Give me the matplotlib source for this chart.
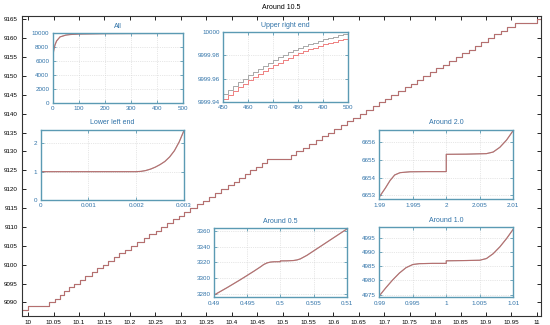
import matplotlib.pyplot as plt
import numpy as np
from matplotlib.ticker import FuncFormatter

# main plot: level left of x=10, then x where the staircase goes up by one
main_start_level = 9088
main_jump_x = [10.000, 10.041, 10.053, 10.062, 10.071, 10.080, 10.090, 10.102,
               10.112, 10.125, 10.136, 10.148, 10.157, 10.168, 10.179, 10.190,
               10.203, 10.214, 10.228, 10.238, 10.251, 10.261, 10.273, 10.284,
               10.296, 10.307, 10.318, 10.331, 10.343, 10.355, 10.368, 10.380,
               10.392, 10.404, 10.415, 10.426, 10.437, 10.448, 10.459, 10.470,
               10.517, 10.527, 10.540, 10.552, 10.565, 10.578, 10.590, 10.602,
               10.614, 10.627, 10.639, 10.652, 10.664, 10.677, 10.689, 10.702,
               10.714, 10.727, 10.740, 10.752, 10.765, 10.777, 10.790, 10.802,
               10.815, 10.828, 10.840, 10.853, 10.866, 10.878, 10.891, 10.903,
               10.916, 10.929, 10.942, 10.957, 11.000]

# inset "All"
all_x = [0, 0, 0.5, 1, 2, 3, 5, 9, 15, 28, 50, 66, 100, 200, 300, 400, 500]
all_y = [0, 0, 3320, 4986, 6654, 7300, 7750, 8350, 8900, 9480, 9740, 9820,
         9895, 9950, 9967, 9975, 9980]

# inset "Upper right end" (two staircases)
ur_x = [450, 452, 454, 456, 458, 460, 462, 464, 466, 468, 470, 472, 474,
        476, 478, 480, 482, 484, 486, 488, 490, 492, 494, 496, 498, 500]
ur_grey = [9999.9464, 9999.9500, 9999.9535, 9999.9568, 9999.9600, 9999.9631,
           9999.9659, 9999.9686, 9999.9712, 9999.9737, 9999.9761, 9999.9783,
           9999.9805, 9999.9826, 9999.9847, 9999.9867, 9999.9883, 9999.9898,
           9999.9912, 9999.9926, 9999.9939, 9999.9952, 9999.9964, 9999.9976,
           9999.9988, 10000.0]
ur_red = [9999.9420, 9999.9456, 9999.9491, 9999.9524, 9999.9556, 9999.9587,
          9999.9615, 9999.9642, 9999.9668, 9999.9693, 9999.9717, 9999.9739,
          9999.9761, 9999.9782, 9999.9803, 9999.9823, 9999.9839, 9999.9854,
          9999.9868, 9999.9882, 9999.9895, 9999.9908, 9999.9920, 9999.9932,
          9999.9944, 9999.9956]

# inset "Lower left end"
ll_x = [0, 0, 0.002, 0.0021, 0.0022, 0.0023, 0.0024, 0.0025, 0.0026,
        0.0027, 0.0028, 0.0029, 0.003]
ll_y = [0, 1, 1, 1.01, 1.04, 1.09, 1.16, 1.25, 1.36, 1.52, 1.74, 2.05, 2.45]

# inset "Around 2.0"
a2_x = [1.99, 1.9909, 1.9916, 1.9923, 1.9931, 1.9946, 1.997, 2.0, 2.0,
        2.003, 2.006, 2.007, 2.008, 2.009, 2.0099, 2.01]
a2_y = [6652.9, 6653.4, 6653.83, 6654.15, 6654.28, 6654.33, 6654.34, 6654.34,
        6655.32, 6655.33, 6655.36, 6655.45, 6655.72, 6656.13, 6656.62, 6656.7]

# inset "Around 0.5"
a05_x = [0.49, 0.492, 0.494, 0.496, 0.497, 0.4975, 0.498, 0.4985, 0.499,
         0.5, 0.5, 0.501, 0.502, 0.5025, 0.503, 0.504, 0.506, 0.508, 0.51]
a05_y = [3279, 3288.5, 3298.5, 3309, 3314.5, 3317.5, 3319.5, 3320.5, 3320.9,
         3321, 3322, 3322.1, 3322.5, 3323.2, 3324.5, 3329, 3340, 3351, 3362]

# inset "Around 1.0"
a1_x = [0.99, 0.991, 0.992, 0.993, 0.994, 0.995, 0.996, 0.998, 1.0, 1.0,
        1.003, 1.005, 1.006, 1.007, 1.008, 1.009, 1.01]
a1_y = [4974.6, 4977.5, 4980.2, 4982.6, 4984.5, 4985.6, 4985.9, 4986.0,
        4986.0, 4986.9, 4987.0, 4987.1, 4987.7, 4989.4, 4991.8, 4994.7, 4998.0]

GREY = '#8c8c8c'
RED = '#d25c5c'
FRAME = '#5b9ab3'
LABEL = '#2f72a8'

plt.rcParams['font.family'] = ['Liberation Sans', 'DejaVu Sans']


def g_fmt(v, pos):
    return '%g' % round(v, 6)


def draw(ax, x, y, step=False):
    if step:
        ax.step(x, y, where='post', color=GREY, lw=0.8)
        ax.step(x, y, where='post', color=RED, lw=0.8, alpha=0.6)
    else:
        ax.plot(x, y, color=GREY, lw=0.8)
        ax.plot(x, y, color=RED, lw=0.8, alpha=0.6)


def inset(rect, title, xlim, ylim, xticks, yticks):
    ax = fig.add_axes(rect, zorder=3)
    ax.set_facecolor('white')
    ax.set_xlim(xlim)
    ax.set_ylim(ylim)
    ax.set_xticks(xticks)
    ax.set_yticks(yticks)
    ax.xaxis.set_major_formatter(FuncFormatter(g_fmt))
    ax.yaxis.set_major_formatter(FuncFormatter(g_fmt))
    ax.tick_params(direction='in', top=True, right=True, length=2.5, width=0.6,
                   color=FRAME, labelcolor=LABEL, labelsize=4.5, pad=2.5)
    for s in ax.spines.values():
        s.set_color(FRAME)
        s.set_linewidth(1.0)
    ax.grid(True, color='#d0d0d0', linestyle=':', linewidth=0.5)
    ax.set_title(title, fontsize=5, color=LABEL, pad=4)
    return ax


fig = plt.figure(figsize=(5.5, 3.25), dpi=100)
ax = fig.add_axes([0.04, 0.0277, 0.9436, 0.9231])
xs = [9.988] + main_jump_x + [11.008]
ys = main_start_level + np.arange(len(main_jump_x) + 1)
ys = list(ys) + [ys[-1]]
draw(ax, xs, ys, step=True)
ax.set_xlim(9.988, 11.008)
ax.set_ylim(9086.4, 9165.9)
ax.set_xticks(np.round(np.arange(10, 11.001, 0.05), 2))
ax.set_yticks(np.arange(9090, 9166, 5))
ax.xaxis.set_major_formatter(FuncFormatter(g_fmt))
ax.tick_params(direction='in', top=True, right=True, length=3, width=0.6,
               labelsize=4.5, pad=3)
for s in ax.spines.values():
    s.set_color('#333333')
    s.set_linewidth(0.8)
ax.set_title('Around 10.5', fontsize=5, pad=5)

a = inset([0.0958, 0.684, 0.2375, 0.2135], 'All', (0, 500), (0, 10000),
          range(0, 501, 100), range(0, 10001, 2000))
draw(a, all_x, all_y)

a = inset([0.406, 0.687, 0.2262, 0.2135], 'Upper right end', (450, 500),
          (9999.94, 10000), range(450, 501, 10),
          [9999.94, 9999.96, 9999.98, 10000])
a.step(ur_x, ur_grey, where='post', color='#a8a8a8', lw=0.7)
a.step(ur_x, ur_red, where='post', color='#ee8080', lw=0.7)

a = inset([0.074, 0.3846, 0.2605, 0.2154], 'Lower left end', (0, 0.003),
          (0, 2.47), [0, 0.001, 0.002, 0.003], [0, 1, 2])
draw(a, ll_x, ll_y)

a = inset([0.6896, 0.3868, 0.2436, 0.2132], 'Around 2.0', (1.99, 2.01),
          (6652.77, 6656.7), [1.99, 1.995, 2, 2.005, 2.01],
          [6653, 6654, 6655, 6656])
draw(a, a2_x, a2_y)

a = inset([0.3891, 0.0852, 0.2413, 0.2123], 'Around 0.5', (0.49, 0.51),
          (3276.2, 3363), [0.49, 0.495, 0.5, 0.505, 0.51],
          range(3280, 3361, 20))
draw(a, a05_x, a05_y)

a = inset([0.6896, 0.0852, 0.2436, 0.2154], 'Around 1.0', (0.99, 1.01),
          (4974.1, 4998.65), [0.99, 0.995, 1, 1.005, 1.01],
          range(4975, 4996, 5))
draw(a, a1_x, a1_y)

fig.savefig('out.png', dpi=100)
